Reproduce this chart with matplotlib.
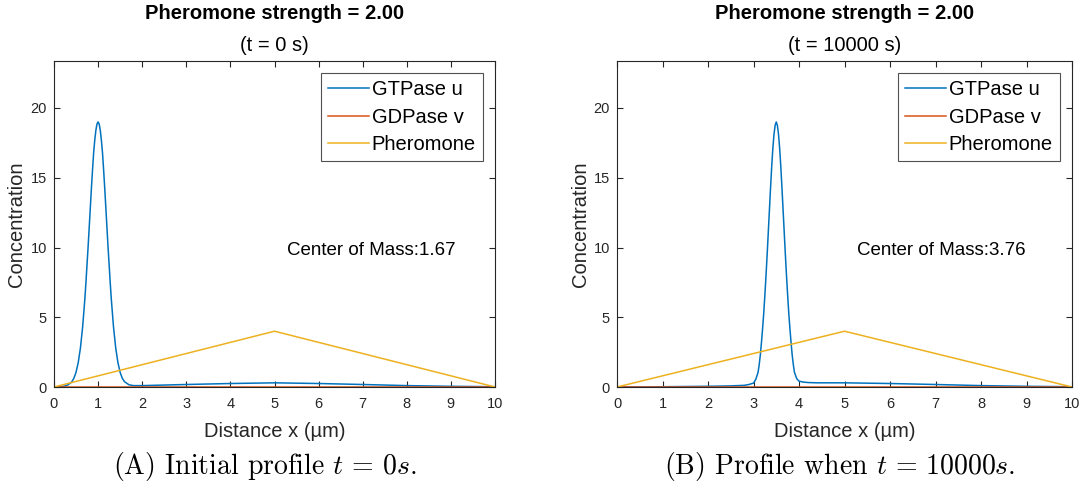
import matplotlib
matplotlib.use('Agg')
import matplotlib.pyplot as plt

plt.rcParams['font.family'] = ['Liberation Sans', 'DejaVu Sans']
plt.rcParams['mathtext.fontset'] = 'cm'

# pheromone profile (same in both panels)
x_pher = [0, 5, 10]
y_pher = [0, 4, 0]

# GTPase u at t = 0 s
x_u0 = [0, 0.2, 0.3, 0.4, 0.45, 0.5, 0.55, 0.6, 0.65, 0.7, 0.725, 0.75, 0.775, 0.8,
        0.825, 0.85, 0.875, 0.9, 0.925, 0.95, 0.975, 1.0,
        1.025, 1.05, 1.075, 1.1, 1.125, 1.15, 1.175, 1.2, 1.225, 1.25, 1.275, 1.3,
        1.35, 1.4, 1.45, 1.5, 1.55, 1.6, 1.7, 1.8, 2.0,
        3, 4, 5, 6, 7, 8, 9, 10]
y_u0 = [0.0, 0.04, 0.12, 0.35, 0.62, 1.05, 1.75, 2.8, 4.3, 6.3, 7.5, 8.8, 10.1, 11.5,
        12.9, 14.3, 15.6, 16.8, 17.7, 18.4, 18.85, 19.0,
        18.85, 18.4, 17.7, 16.8, 15.6, 14.3, 12.9, 11.5, 10.1, 8.8, 7.5, 6.3,
        4.3, 2.8, 1.75, 1.05, 0.62, 0.38, 0.16, 0.1, 0.1,
        0.18, 0.25, 0.3, 0.25, 0.18, 0.1, 0.05, 0.02]

# GTPase u at t = 10000 s
x_u1 = [0, 1, 2, 2.5, 2.8, 2.9, 3.0, 3.05, 3.1, 3.125, 3.15, 3.175, 3.2, 3.225, 3.25, 3.275,
        3.3, 3.325, 3.35, 3.375, 3.4, 3.425, 3.45, 3.475, 3.5,
        3.525, 3.55, 3.575, 3.6, 3.625, 3.65, 3.675, 3.7, 3.725, 3.75, 3.775,
        3.8, 3.825, 3.85, 3.875, 3.9, 3.95, 4.0, 4.1, 4.2, 4.4,
        5, 6, 7, 8, 9, 10]
y_u1 = [0.0, 0.02, 0.05, 0.08, 0.12, 0.18, 0.28, 0.55, 1.05, 1.6, 2.3, 3.2, 4.2, 5.3, 6.6, 8.0,
        9.5, 11.1, 12.7, 14.3, 15.8, 17.1, 18.1, 18.75, 19.0,
        18.75, 18.1, 17.1, 15.8, 14.3, 12.7, 11.1, 9.5, 8.0, 6.6, 5.3,
        4.2, 3.2, 2.3, 1.6, 1.05, 0.6, 0.42, 0.35, 0.32, 0.3,
        0.3, 0.25, 0.18, 0.1, 0.05, 0.02]

# GDPase v (flat near zero)
x_v = [0, 10]
y_v = [0.02, 0.02]

times = ['0', '10000']
centers = ['1.67', '3.76']
captions = [r'(A) Initial profile $t\,=\,0s$.', r'(B) Profile when $t\,=\,10000s$.']
u_data = [(x_u0, y_u0), (x_u1, y_u1)]

c_u, c_v, c_p = '#0072BD', '#D95319', '#EDB120'
axcol = '#262626'

fig = plt.figure(figsize=(10.88, 4.91), dpi=100)
positions = [[0.0496, 0.2118, 0.4054, 0.6640],
             [0.5671, 0.2118, 0.4182, 0.6640]]
caption_x = [0.477, 0.49]

for i in range(2):
    ax = fig.add_axes(positions[i])
    xu, yu = u_data[i]
    ax.plot(xu, yu, color=c_u, lw=1.1, label='GTPase u')
    ax.plot(x_v, y_v, color=c_v, lw=1.1, label='GDPase v')
    ax.plot(x_pher, y_pher, color=c_p, lw=1.1, label='Pheromone')
    ax.set_xlim(0, 10)
    ax.set_ylim(0, 23.37)
    ax.set_xticks(range(0, 11))
    ax.set_yticks([0, 5, 10, 15, 20])
    ax.tick_params(direction='in', top=True, right=True, labelsize=10.5,
                   colors=axcol, length=4, width=0.8, pad=7)
    ax.tick_params(axis='y', pad=5)
    for s in ax.spines.values():
        s.set_color(axcol)
        s.set_linewidth(0.8)
    ax.set_xlabel('Distance x (µm)', fontsize=14.5, color=axcol, labelpad=8)
    ax.set_ylabel('Concentration', fontsize=14.5, color=axcol, labelpad=3)
    ax.set_title('(t = %s s)' % times[i], fontsize=14.5, pad=7)
    ax.text(0.5, 1.115, 'Pheromone strength = 2.00', transform=ax.transAxes,
            ha='center', va='bottom', fontsize=14.5, fontweight='bold')
    ax.text(5.28, 9.8, 'Center of Mass:' + centers[i], fontsize=13.5, va='center')
    leg = ax.legend(loc='upper right', fontsize=14.5, frameon=True, fancybox=False,
                    edgecolor=axcol, handlelength=2.0, handletextpad=0.15,
                    borderpad=0.35, labelspacing=0.43, borderaxespad=0.6)
    leg.get_frame().set_linewidth(0.8)
    ax.text(caption_x[i], -0.245, captions[i], transform=ax.transAxes, ha='center',
            va='center', fontsize=20, fontname='cmr10')

fig.savefig('out.png', dpi=100)
